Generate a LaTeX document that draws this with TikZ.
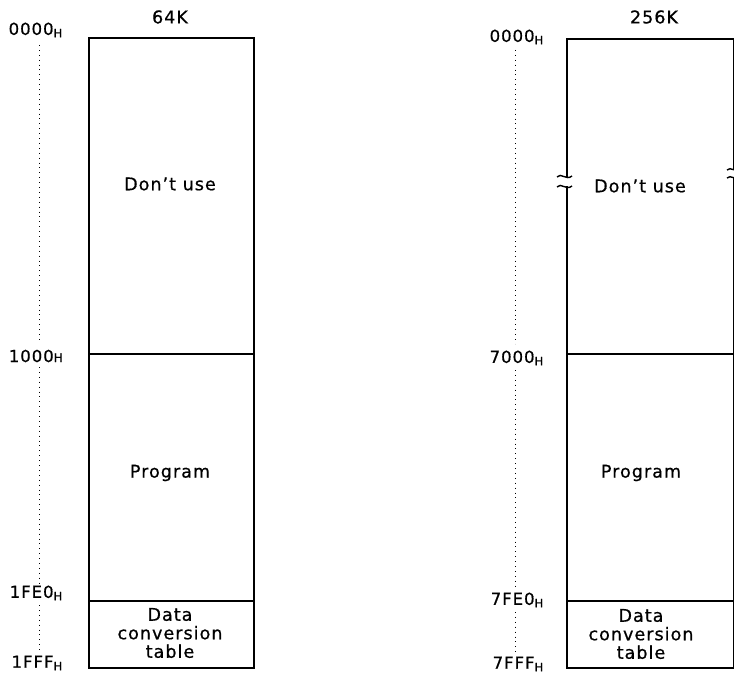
\documentclass[tikz,border=0pt]{standalone}
\usepackage{fontspec}
\setmainfont[LetterSpace=6,FakeBold=0.7]{DejaVu Sans}
\begin{document}
\begin{tikzpicture}[x=1pt,y=-1pt,
  region/.style={draw,line width=1.8pt,inner sep=0pt,anchor=north west},
  txt/.style={font=\fontsize{17.5}{18.5}\selectfont,inner sep=0pt,align=center},
  addr/.style={font=\fontsize{16.5}{18}\selectfont,inner sep=0pt,anchor=east},
  dots/.style={line width=1pt,dash pattern=on 0.9pt off 4pt},
  brk/.style={line width=1.4pt}]
\useasboundingbox (0,0) rectangle (734,679);
% ---------------- left map (64K)
\node[region,minimum width=165pt,minimum height=316pt] (LA) at (88,37) {};
\node[region,minimum width=165pt,minimum height=247pt] (LB) at (88,353) {};
\node[region,minimum width=165pt,minimum height=67pt]  (LC) at (88,600) {};
\node[txt] (t64) at (170,17) {64K};
\node[txt] (LAt) at (170,184) {Don't use};
\node[txt] (LBt) at (170,473) {Program};
\node[txt] (LCt) at (170,633) {Data\\conversion\\table};
\node[addr] (l0) at (63,30) {0000\textsubscript{H}};
\node[addr] (l1) at (63,356) {1000{\fontsize{12}{12}\selectfont H}};
\node[addr] (l2) at (63,593) {1FE0\textsubscript{H}};
\node[addr] (l3) at (63,663) {1FFF\textsubscript{H}};
\coordinate (d0) at (39,45);
\coordinate (d1) at (39,342);
\coordinate (d2) at (39,367);
\coordinate (d3) at (39,583);
\coordinate (d4) at (39,605);
\coordinate (d5) at (39,652);
\draw[dots] (d0) -- (d1);
\draw[dots] (d2) -- (d3);
\draw[dots] (d4) -- (d5);
% ---------------- right map (256K)
\node[region,minimum width=167pt,minimum height=315pt] (RA) at (566,38) {};
\node[region,minimum width=167pt,minimum height=247pt] (RB) at (566,353) {};
\node[region,minimum width=167pt,minimum height=67pt]  (RC) at (566,600) {};
% break marks
\fill[white] (563,178) rectangle (569,186);
\fill[white] (730,169) rectangle (736,178);
\draw[brk] (557,177) .. controls (561,172) and (566,181) .. (572,176);
\draw[brk] (557,187) .. controls (561,182) and (566,191) .. (572,186);
\draw[brk] (727,170) .. controls (731,166) and (735,173) .. (739,169);
\draw[brk] (727,178) .. controls (731,174) and (735,181) .. (739,177);
\node[txt] (t256) at (654,17) {256K};
\node[txt] (RAt) at (640,186) {Don't use};
\node[txt] (RBt) at (641,473) {Program};
\node[txt] (RCt) at (641,634) {Data\\conversion\\table};
\node[addr] (r0) at (544,37) {0000\textsubscript{H}};
\node[addr] (r1) at (544,358) {7000\textsubscript{H}};
\node[addr] (r2) at (544,600) {7FE0\textsubscript{H}};
\node[addr] (r3) at (544,664) {7FFF\textsubscript{H}};
\coordinate (e0) at (515,50);
\coordinate (e1) at (515,344);
\coordinate (e2) at (515,370);
\coordinate (e3) at (515,590);
\coordinate (e4) at (515,612);
\coordinate (e5) at (515,653);
\draw[dots] (e0) -- (e1);
\draw[dots] (e2) -- (e3);
\draw[dots] (e4) -- (e5);
\end{tikzpicture}
\end{document}
